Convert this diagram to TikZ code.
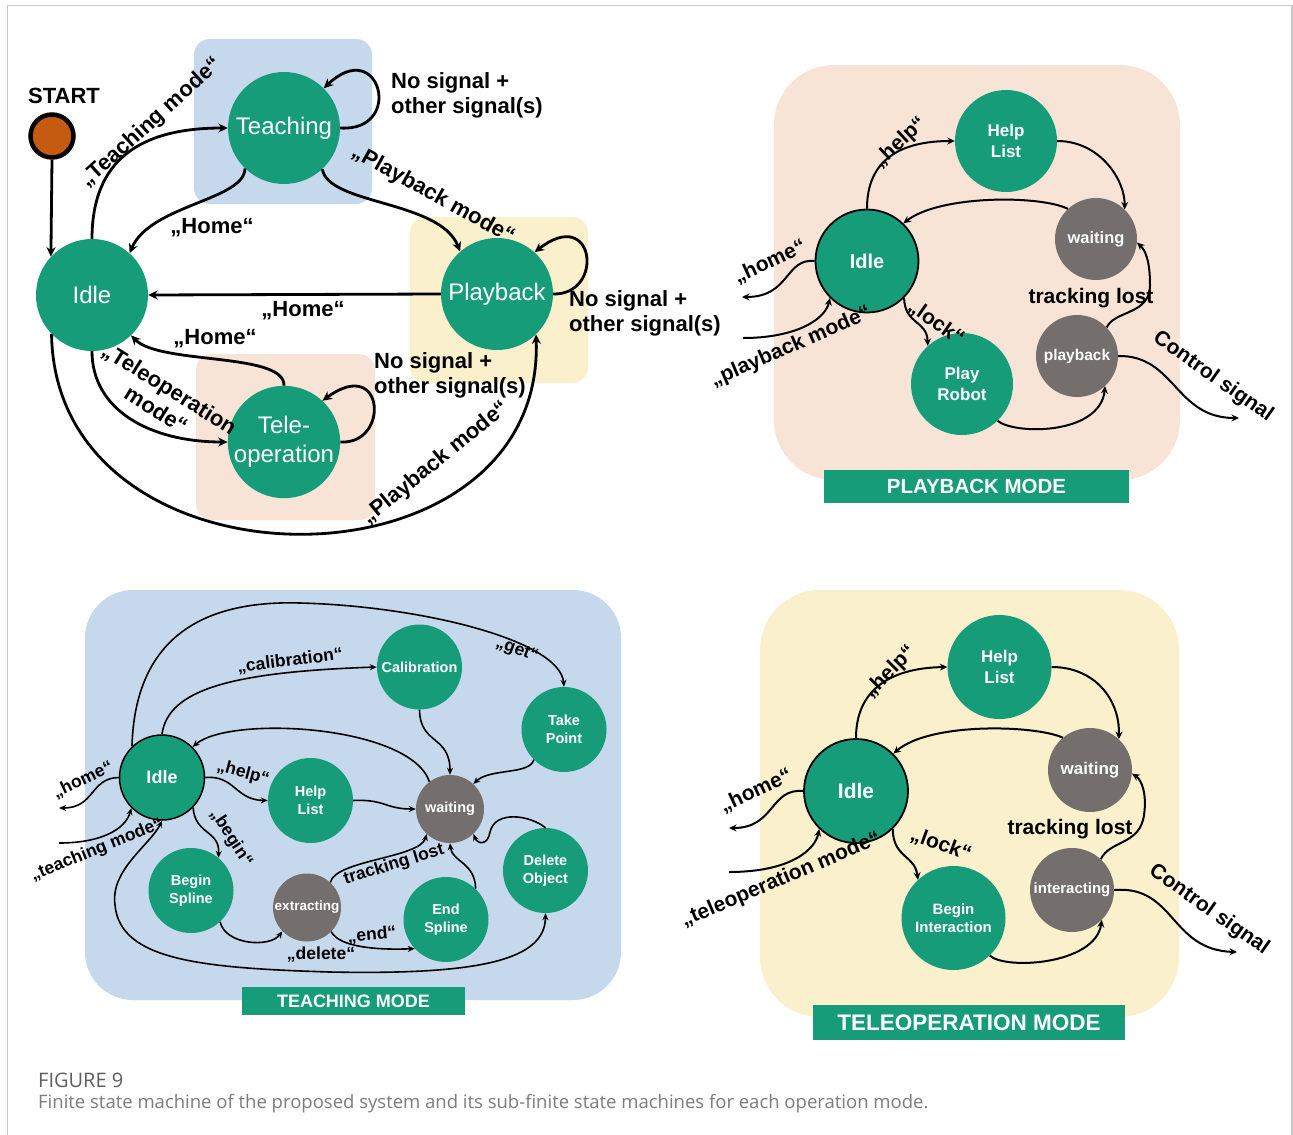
\documentclass[tikz,border=0pt]{standalone}
\usepackage{fontspec}
\setmainfont{Liberation Sans}
\newfontfamily\captionfont{Open Sans}
\usetikzlibrary{arrows.meta}

\definecolor{fsmgreen}{HTML}{179C7A}
\definecolor{fsmgray}{HTML}{746F6C}
\definecolor{boxblue}{HTML}{C6D8EC}
\definecolor{boxpeach}{HTML}{F7E4D6}
\definecolor{boxyellow}{HTML}{FAF0CC}
\definecolor{startorange}{HTML}{C55A11}
\definecolor{framegray}{HTML}{C8C8C8}
\definecolor{capdark}{HTML}{5E5E5E}
\definecolor{caplight}{HTML}{7C7C7C}

\begin{document}
\begin{tikzpicture}[x=1pt,y=-1pt,
  state/.style={circle, fill=fsmgreen, text=white, inner sep=0pt, align=center},
  bigstate/.style={state, minimum size=112pt, font=\fontsize{24}{29}\selectfont},
  idleline/.style={draw=black, line width=1.8pt},
  pbstate/.style={state, minimum size=102pt, font=\bfseries\fontsize{17}{21}\selectfont},
  pbgray/.style={state, fill=fsmgray, minimum size=82pt, font=\bfseries\fontsize{16.5}{19}\selectfont},
  opstate/.style={state, minimum size=104pt, font=\bfseries\fontsize{17}{21}\selectfont},
  opgray/.style={state, fill=fsmgray, minimum size=84pt, font=\bfseries\fontsize{17}{20}\selectfont},
  tsstate/.style={state, minimum size=85pt, font=\bfseries\fontsize{14.5}{17.5}\selectfont},
  tsgray/.style={state, fill=fsmgray, minimum size=68pt, font=\bfseries\fontsize{14.5}{17}\selectfont},
  mainarrow/.style={line width=2.8pt, -{Stealth[length=9.5pt,width=9pt]}},
  subarrow/.style={line width=2pt, -{Stealth[length=7.5pt,width=7pt]}},
  tsarrow/.style={line width=1.6pt, -{Stealth[length=7pt,width=6pt]}},
  mainlbl/.style={font=\bfseries\fontsize{22}{25}\selectfont, inner sep=0pt},
  sublbl/.style={font=\bfseries\fontsize{21}{24}\selectfont, inner sep=0pt},
  tslbl/.style={font=\bfseries\fontsize{17.5}{20}\selectfont, inner sep=0pt},
  modebar/.style={fill=fsmgreen, text=white, inner sep=0pt},
]
\useasboundingbox (0,0) rectangle (1293,1135);
\fill[white] (0,0) rectangle (1293,1135);
\draw[framegray, line width=1.5pt] (7.5,1135) -- (7.5,5.5) -- (1292,5.5) -- (1292,1135);

%% ---------------- overall state machine ----------------
\fill[boxblue, rounded corners=16pt] (194,39) rectangle (372,204);
\fill[boxyellow, rounded corners=16pt] (410,217) rectangle (588,383);
\fill[boxpeach, rounded corners=16pt] (196,354) rectangle (375,520);

\node[circle, fill=startorange, draw=black, line width=4.5pt, minimum size=43pt, inner sep=0pt] (start) at (52,136) {};
\node[font=\bfseries\fontsize{22}{26}\selectfont, inner sep=0pt] (startlbl) at (64,96) {START};
\node[bigstate] (idle) at (92,295) {Idle};
\node[bigstate] (teach) at (284,128) {Teaching};
\node[bigstate] (play) at (497,294) {Playback};
\node[bigstate] (tele) at (284,442) {Tele-\\operation};

\draw[mainarrow] (start.south) -- (idle.137);
\draw[mainarrow] (idle.90) .. controls (92,160) and (140,128) .. (teach.180);
\draw[mainarrow] (teach.226) .. controls (245,200) and (150,205) .. (idle.48);
\draw[mainarrow] (teach.313) .. controls (328,205) and (440,200) .. (play.131);
\draw[mainarrow] (play.180) -- (idle.0);
\draw[mainarrow] (tele.90) .. controls (285,352) and (160,365) .. (idle.314);
\draw[mainarrow] (idle.270) .. controls (92,410) and (150,442) .. (tele.180);
\draw[mainarrow] (idle.224) .. controls (55,600) and (545,600) .. (play.314);
\draw[mainarrow] (teach.0) .. controls (405,132) and (380,35) .. (teach.45);
\draw[mainarrow] (play.0) .. controls (605,295) and (595,205) .. (play.48);
\draw[mainarrow] (tele.0) .. controls (390,445) and (385,355) .. (tele.47);

\node[mainlbl, rotate=42] (lteach) at (151,123) {„Teaching mode“};
\node[mainlbl] (lhomea) at (212,228) {„Home“};
\node[mainlbl, rotate=-29] (lplaya) at (433,195) {„Playback mode“};
\node[mainlbl] (lhomeb) at (303,311) {„Home“};
\node[mainlbl] (lhomec) at (215,339) {„Home“};
\node[mainlbl, rotate=-32, align=center] (ltele) at (163,399) {„Teleoperation\\mode“};
\node[mainlbl, rotate=39] (lplayb) at (436,463) {„Playback mode“};
\node[mainlbl, anchor=west, align=left] (lloopa) at (391,95) {No signal +\\other signal(s)};
\node[mainlbl, anchor=west, align=left] (lloopb) at (569,313) {No signal +\\other signal(s)};
\node[mainlbl, anchor=west, align=left] (lloopc) at (374,375) {No signal +\\other signal(s)};

%% ---------------- playback mode ----------------
\fill[boxpeach, rounded corners=60pt] (774,65) rectangle (1180,480);
\node[modebar, minimum width=305pt, minimum height=33pt, font=\bfseries\fontsize{20.5}{24}\selectfont] (pbbar) at (976.5,486.5) {PLAYBACK MODE};
\node[state, idleline, minimum size=103pt, font=\bfseries\fontsize{20}{24}\selectfont] (pbidle) at (867,261) {Idle};
\node[pbstate] (pbhelp) at (1006,141) {Help\\List};
\node[pbgray] (pbwait) at (1096,239) {waiting};
\node[pbgray, font=\bfseries\fontsize{15.5}{18}\selectfont] (pbplay) at (1077,356) {playback};
\node[pbstate] (pbrobot) at (962,384) {Play\\Robot};
\coordinate (pbhomeend) at (742,297);
\coordinate (pbin) at (743,338);
\coordinate (pbout) at (1239,418);

\draw[subarrow] (pbidle.90) .. controls (867,160) and (900,141) .. (pbhelp.180);
\draw[subarrow] (pbhelp.0) .. controls (1100,141) and (1125,180) .. (pbwait.46);
\draw[subarrow] (pbwait.133) .. controls (1040,195) and (940,195) .. (pbidle.46);
\draw[subarrow] (pbidle.180) .. controls (785,258) and (790,297) .. (pbhomeend);
\draw[subarrow] (pbin) .. controls (795,338) and (825,320) .. (pbidle.225);
\draw[subarrow] (pbidle.315) .. controls (905,325) and (927,320) .. (pbrobot.132);
\draw[subarrow] (pbrobot.314) .. controls (1015,435) and (1100,435) .. (pbplay.313);
\draw[subarrow] (pbplay.44) .. controls (1115,310) and (1150,315) .. (1150,285) .. controls (1150,260) and (1145,250) .. (pbwait.-5);
\draw[subarrow] (pbplay.0) .. controls (1175,355) and (1175,418) .. (pbout);

\node[sublbl, rotate=43] (pbla) at (900,143) {„help“};
\node[sublbl, rotate=25] (pblb) at (770,262) {„home“};
\node[sublbl, rotate=23.5] (pblc) at (791,347) {„playback mode“};
\node[sublbl, rotate=-35] (pbld) at (936,323) {„lock“};
\node[sublbl] (pble) at (1091,298) {tracking lost};
\node[sublbl, rotate=-35] (pblf) at (1213,377) {Control signal};

%% ---------------- teleoperation mode ----------------
\fill[boxyellow, rounded corners=60pt] (760,590) rectangle (1179,1017);
\node[modebar, minimum width=312pt, minimum height=35pt, font=\bfseries\fontsize{22.5}{26}\selectfont] (opbar) at (969,1022.5) {TELEOPERATION MODE};
\node[state, idleline, minimum size=104pt, font=\bfseries\fontsize{21}{25}\selectfont] (opidle) at (856,791) {Idle};
\node[opstate] (ophelp) at (999.5,667) {Help\\List};
\node[opgray] (opwait) at (1090,770) {waiting};
\node[opgray, font=\bfseries\fontsize{15}{18}\selectfont] (opint) at (1072,890) {interacting};
\node[opstate, font=\bfseries\fontsize{15}{18}\selectfont] (opbegin) at (953.5,918) {Begin\\Interaction};
\coordinate (ophomeend) at (729,828);
\coordinate (opin) at (729,872);
\coordinate (opout) at (1237,952);

\draw[subarrow] (opidle.90) .. controls (856,690) and (890,668) .. (ophelp.180);
\draw[subarrow] (ophelp.0) .. controls (1095,667) and (1120,700) .. (opwait.47);
\draw[subarrow] (opwait.130) .. controls (1035,725) and (930,722) .. (opidle.45);
\draw[subarrow] (opidle.180) .. controls (770,788) and (775,828) .. (ophomeend);
\draw[subarrow] (opin) .. controls (790,872) and (815,850) .. (opidle.226);
\draw[subarrow] (opidle.314) .. controls (893,858) and (915,855) .. (opbegin.133);
\draw[subarrow] (opbegin.314) .. controls (1005,970) and (1095,965) .. (opint.315);
\draw[subarrow] (opint.47) .. controls (1110,840) and (1140,845) .. (1144,815) .. controls (1147,795) and (1142,780) .. (opwait.-5);
\draw[subarrow] (opint.0) .. controls (1175,885) and (1170,950) .. (opout);

\node[sublbl, rotate=45] (opla) at (890,672) {„help“};
\node[sublbl, rotate=25] (oplb) at (756,791) {„home“};
\node[sublbl, rotate=23] (oplc) at (781,880) {„teleoperation mode“};
\node[sublbl, rotate=-20] (opld) at (941,845) {„lock“};
\node[sublbl] (ople) at (1070,829) {tracking lost};
\node[sublbl, rotate=-35] (oplf) at (1209,910) {Control signal};

%% ---------------- teaching mode ----------------
\fill[boxblue, rounded corners=48pt] (85,590) rectangle (621,1000);
\node[modebar, minimum width=223pt, minimum height=28pt, font=\bfseries\fontsize{18}{21}\selectfont] (tsbar) at (353.5,1001) {TEACHING MODE};
\node[state, idleline, line width=1.5pt, minimum size=85pt, font=\bfseries\fontsize{18}{21}\selectfont] (tsidle) at (162,777.5) {Idle};
\node[tsstate] (tscal) at (419.5,667) {Calibration};
\node[tsstate] (tstake) at (564,729.5) {Take\\Point};
\node[tsstate] (tshelp) at (310.5,800.5) {Help\\List};
\node[tsgray] (tswait) at (450,809) {waiting};
\node[tsstate] (tsdel) at (545.5,870.5) {Delete\\Object};
\node[tsstate] (tsbegin) at (191,890.5) {Begin\\Spline};
\node[tsgray, font=\bfseries\fontsize{13.5}{16}\selectfont] (tsextr) at (307,907.5) {extracting};
\node[tsstate] (tsend) at (446,919.5) {End\\Spline};
\coordinate (tshomeend) at (59,808);
\coordinate (tsin) at (59,843);

\draw[tsarrow] (tsidle.180) .. controls (90,778) and (95,808) .. (tshomeend);
\draw[tsarrow] (tsin) .. controls (100,843) and (125,830) .. (tsidle.225);
\draw[tsarrow] (tsidle.134) .. controls (135,640) and (200,600) .. (300,603) .. controls (420,606) and (560,640) .. (tstake.90);
\draw[tsarrow] (tsidle.90) .. controls (168,690) and (230,672) .. (tscal.180);
\draw[tsarrow] (tscal.270) .. controls (420,745) and (450,735) .. (tswait.90);
\draw[tsarrow] (tstake.225) .. controls (530,775) and (490,768) .. (tswait.47);
\draw[tsarrow] (tswait.127) .. controls (410,725) and (230,715) .. (tsidle.45);
\draw[tsarrow] (tsidle.0) .. controls (235,775) and (235,800) .. (tshelp.180);
\draw[tsarrow] (tshelp.0) .. controls (385,799) and (385,809) .. (tswait.180);
\draw[tsarrow] (tsidle.316) .. controls (195,835) and (220,830) .. (tsbegin.50);
\draw[tsarrow] (tsbegin.313) .. controls (225,945) and (270,948) .. (tsextr.224);
\draw[tsarrow] (tsextr.315) .. controls (340,948) and (380,950) .. (tsend.223);
\draw[tsarrow] (tsextr.47) .. controls (335,860) and (420,858) .. (tswait.227);
\draw[tsarrow] (tsend.46) .. controls (475,862) and (452,862) .. (tswait.270);
\draw[tsarrow] (tsdel.90) .. controls (530,815) and (495,810) .. (490,832) .. controls (488,845) and (478,845) .. (tswait.313);
\draw[tsarrow, {Stealth[length=7pt,width=6pt]}-{Stealth[length=7pt,width=6pt]}] (tsidle.270) .. controls (150,845) and (110,870) .. (115,905) .. controls (120,960) and (200,968) .. (330,972) .. controls (480,975) and (545,960) .. (tsdel.270);

\node[tslbl, rotate=25] (tsla) at (83,780) {„home“};
\node[tslbl, rotate=22] (tslb) at (97,850) {„teaching mode“};
\node[tslbl, rotate=-20] (tslc) at (517,650) {„get“};
\node[tslbl, rotate=7] (tsld) at (290,661) {„calibration“};
\node[tslbl, rotate=-15] (tsle) at (243,773) {„help“};
\node[tslbl, rotate=-57] (tslf) at (231,838) {„begin“};
\node[tslbl, rotate=17] (tslg) at (394,865) {tracking lost};
\node[tslbl, rotate=5] (tslh) at (372,935) {„end“};
\node[tslbl] (tsli) at (321,955) {„delete“};

%% ---------------- caption ----------------
\node[anchor=west, inner sep=0pt, text=capdark, font=\captionfont\fontsize{20}{24}\selectfont] (figno) at (38,1080) {FIGURE 9};
\node[anchor=west, inner sep=0pt, text=caplight, font=\captionfont\fontsize{18.5}{22}\selectfont] (figtext) at (38,1104) {Finite state machine of the proposed system and its sub-finite state machines for each operation mode.};
\end{tikzpicture}
\end{document}
